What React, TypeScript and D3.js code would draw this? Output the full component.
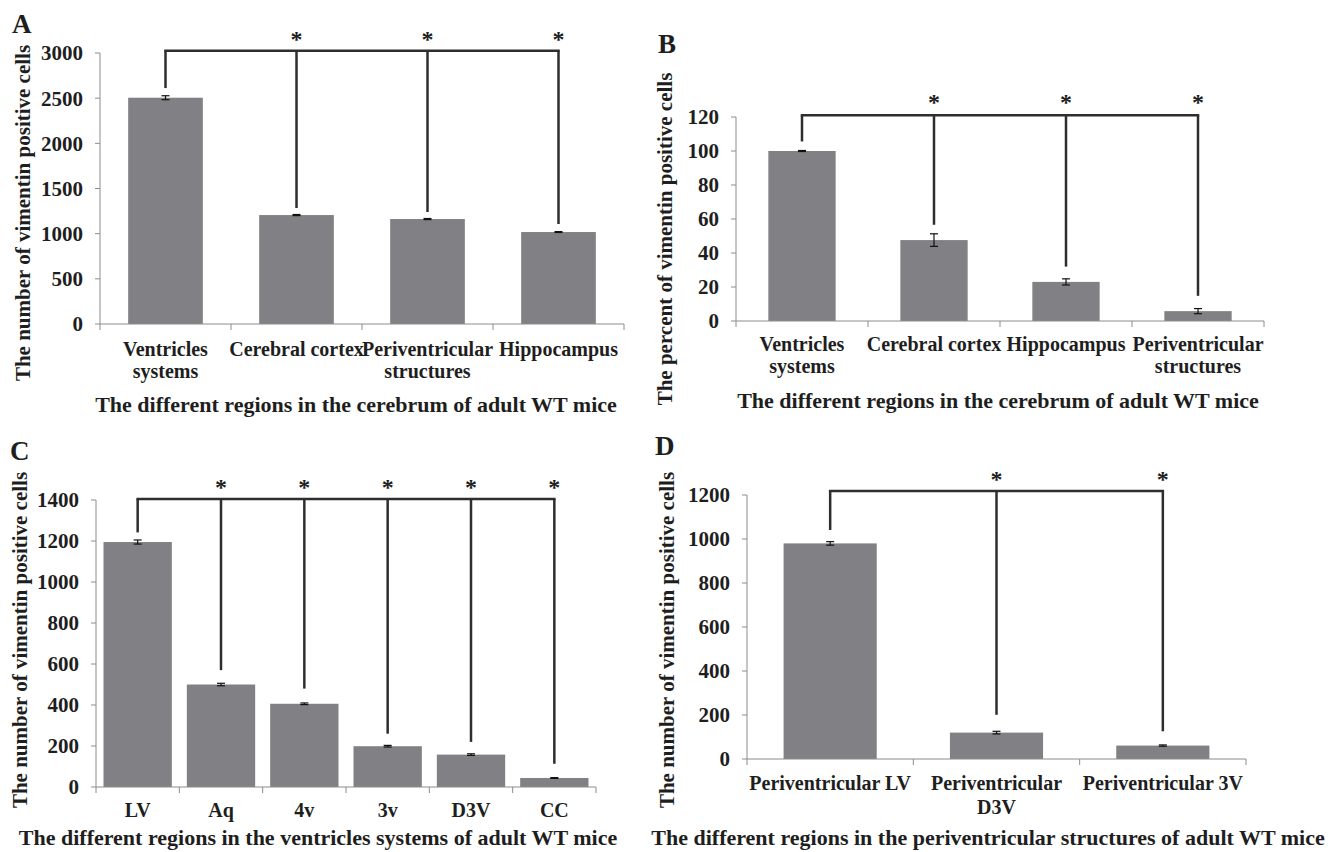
import React from "react";
import * as d3 from "d3";

// ---------- Data ----------
const aCategories = [["Ventricles", "systems"], ["Cerebral cortex"], ["Periventricular", "structures"], ["Hippocampus"]];
const aValues = [2505, 1206, 1162, 1018];
const aErrors = [22, 6, 6, 5];
const aDropEnds = [2612, 1284, 1240, 1107];
const aTicks = [0, 500, 1000, 1500, 2000, 2500, 3000];

const bCategories = [["Ventricles", "systems"], ["Cerebral cortex"], ["Hippocampus"], ["Periventricular", "structures"]];
const bValues = [100, 47.6, 23, 5.8];
const bErrors = [0.3, 3.7, 1.8, 1.5];
const bDropEnds = [105.6, 56.6, 32, 14.8];
const bTicks = [0, 20, 40, 60, 80, 100, 120];

const cCategories = [["LV"], ["Aq"], ["4v"], ["3v"], ["D3V"], ["CC"]];
const cValues = [1195, 500, 406, 199, 158, 44];
const cErrors = [10, 6, 4, 4, 4, 2];
const cDropEnds = [1242, 570, 480, 260, 220, 114];
const cTicks = [0, 200, 400, 600, 800, 1000, 1200, 1400];

const dCategories = [["Periventricular LV"], ["Periventricular", "D3V"], ["Periventricular 3V"]];
const dValues = [980, 120, 61];
const dErrors = [8, 6, 3];
const dDropEnds = [1041, 201, 126];
const dTicks = [0, 200, 400, 600, 800, 1000, 1200];

const yTitleCount = "The number of vimentin positive cells";
const yTitlePercent = "The percent of vimentin positive cells";
const xTitleCerebrum = "The different regions in the cerebrum of adult WT mice";
const xTitleVentricles = "The different regions in the ventricles systems of adult WT mice";
const xTitlePeri = "The different regions in the periventricular structures of adult WT mice";

const FONT = "'Liberation Serif', 'Times New Roman', serif";
const BAR = "#818185";
const AXIS = "#8c8c8c";
const BRACKET = "#2e2e2e";
const TEXT = "#1e1e1e";

type PanelProps = {
  letter: string; letterX: number; letterY: number;
  categories: string[][]; values: number[]; errors: number[]; dropEnds: number[];
  ticks: number[]; bracketV: number; starV: number;
  left: number; right: number; top: number; bottom: number; barRatio: number;
  yTitle: string; yTitleX: number; yTitleY: number;
  labelY: number; labelGap: number;
  xTitle: string; xTitleX: number; xTitleY: number;
};

function Panel(p: PanelProps) {
  const names = p.categories.map((c) => c.join(" "));
  const x = d3.scaleBand<string>().domain(names).range([p.left, p.right]).padding(0);
  const yMax = p.ticks[p.ticks.length - 1];
  const y = d3.scaleLinear().domain([0, yMax]).range([p.bottom, p.top]);
  const bw = x.bandwidth();
  const barW = bw * p.barRatio;
  const cx = (i: number) => (x(names[i]) as number) + bw / 2;
  const by = y(p.bracketV);
  const boundaries = names.map((n) => x(n) as number).concat([p.right]);
  return (
    <g>
      <text x={p.letterX} y={p.letterY} fontFamily={FONT} fontWeight="bold" fontSize={27} fill={TEXT}>{p.letter}</text>
      {p.values.map((v, i) => (
        <rect key={"b" + i} x={cx(i) - barW / 2} y={y(v)} width={barW} height={y(0) - y(v)} fill={BAR} />
      ))}
      {p.values.map((v, i) => (
        <g key={"e" + i} stroke="#111" strokeWidth={1.2}>
          <line x1={cx(i)} x2={cx(i)} y1={y(v + p.errors[i])} y2={y(v - p.errors[i])} />
          <line x1={cx(i) - 4} x2={cx(i) + 4} y1={y(v + p.errors[i])} y2={y(v + p.errors[i])} />
          <line x1={cx(i) - 4} x2={cx(i) + 4} y1={y(v - p.errors[i])} y2={y(v - p.errors[i])} />
        </g>
      ))}
      <line x1={p.left} x2={p.left} y1={y(yMax)} y2={y(0)} stroke={AXIS} strokeWidth={1} />
      {p.ticks.map((t) => (
        <g key={"t" + t}>
          <line x1={p.left - 5} x2={p.left} y1={y(t)} y2={y(t)} stroke={AXIS} strokeWidth={1} />
          <text x={p.left - 17} y={y(t)} dy="0.35em" textAnchor="end" fontFamily={FONT} fontWeight="bold" fontSize={21} fill={TEXT}>{t}</text>
        </g>
      ))}
      <line x1={p.left} x2={p.right} y1={y(0)} y2={y(0)} stroke={AXIS} strokeWidth={1} />
      {boundaries.map((bx, i) => (
        <line key={"xt" + i} x1={bx} x2={bx} y1={y(0)} y2={y(0) + 6} stroke={AXIS} strokeWidth={1} />
      ))}
      {p.categories.map((lines, i) => (
        <text key={"c" + i} x={cx(i)} y={p.labelY} textAnchor="middle" fontFamily={FONT} fontWeight="bold" fontSize={20} fill={TEXT}>
          {lines.map((ln, j) => (
            <tspan key={j} x={cx(i)} dy={j === 0 ? 0 : p.labelGap}>{ln}</tspan>
          ))}
        </text>
      ))}
      <g stroke={BRACKET} strokeWidth={2.5} fill="none">
        <line x1={cx(0) - 1.25} x2={cx(p.values.length - 1) + 1.25} y1={by} y2={by} />
        {p.dropEnds.map((d, i) => (
          <line key={"d" + i} x1={cx(i)} x2={cx(i)} y1={by} y2={y(d)} />
        ))}
      </g>
      {p.values.map((_, i) =>
        i === 0 ? null : (
          <text key={"s" + i} x={cx(i)} y={y(p.starV) + 10} textAnchor="middle" fontFamily={FONT} fontWeight="bold" fontSize={24} fill={TEXT}>*</text>
        )
      )}
      <text transform={`translate(${p.yTitleX},${p.yTitleY}) rotate(-90)`} textAnchor="middle" dy="0.35em" fontFamily={FONT} fontWeight="bold" fontSize={21} fill={TEXT}>{p.yTitle}</text>
      <text x={p.xTitleX} y={p.xTitleY} textAnchor="middle" fontFamily={FONT} fontWeight="bold" fontSize={22} fill={TEXT}>{p.xTitle}</text>
    </g>
  );
}

export default function App() {
  return (
    <svg width={1339} height={852} style={{ position: "absolute", left: 0, top: 0, background: "#fff" }}>
      <rect width={1339} height={852} fill="#fff" />
      <Panel letter="A" letterX={12} letterY={33} categories={aCategories} values={aValues} errors={aErrors}
        dropEnds={aDropEnds} ticks={aTicks} bracketV={3025} starV={3177}
        left={100} right={624} top={53} bottom={324} barRatio={0.57}
        yTitle={yTitleCount} yTitleX={23} yTitleY={213}
        labelY={356} labelGap={22} xTitle={xTitleCerebrum} xTitleX={356} xTitleY={412} />
      <Panel letter="B" letterX={658} letterY={53} categories={bCategories} values={bValues} errors={bErrors}
        dropEnds={bDropEnds} ticks={bTicks} bracketV={121} starV={130}
        left={736} right={1264} top={117} bottom={321} barRatio={0.51}
        yTitle={yTitlePercent} yTitleX={665} yTitleY={239}
        labelY={351} labelGap={22} xTitle={xTitleCerebrum} xTitleX={998} xTitleY={408} />
      <Panel letter="C" letterX={10} letterY={460} categories={cCategories} values={cValues} errors={cErrors}
        dropEnds={cDropEnds} ticks={cTicks} bracketV={1405} starV={1473}
        left={96} right={596} top={500} bottom={787} barRatio={0.82}
        yTitle={yTitleCount} yTitleX={20} yTitleY={640}
        labelY={817} labelGap={22} xTitle={xTitleVentricles} xTitleX={318} xTitleY={845} />
      <Panel letter="D" letterX={655} letterY={455} categories={dCategories} values={dValues} errors={dErrors}
        dropEnds={dDropEnds} ticks={dTicks} bracketV={1218} starV={1280}
        left={747} right={1246} top={495} bottom={759} barRatio={0.56}
        yTitle={yTitleCount} yTitleX={667} yTitleY={640}
        labelY={790} labelGap={24} xTitle={xTitlePeri} xTitleX={988} xTitleY={845} />
    </svg>
  );
}
